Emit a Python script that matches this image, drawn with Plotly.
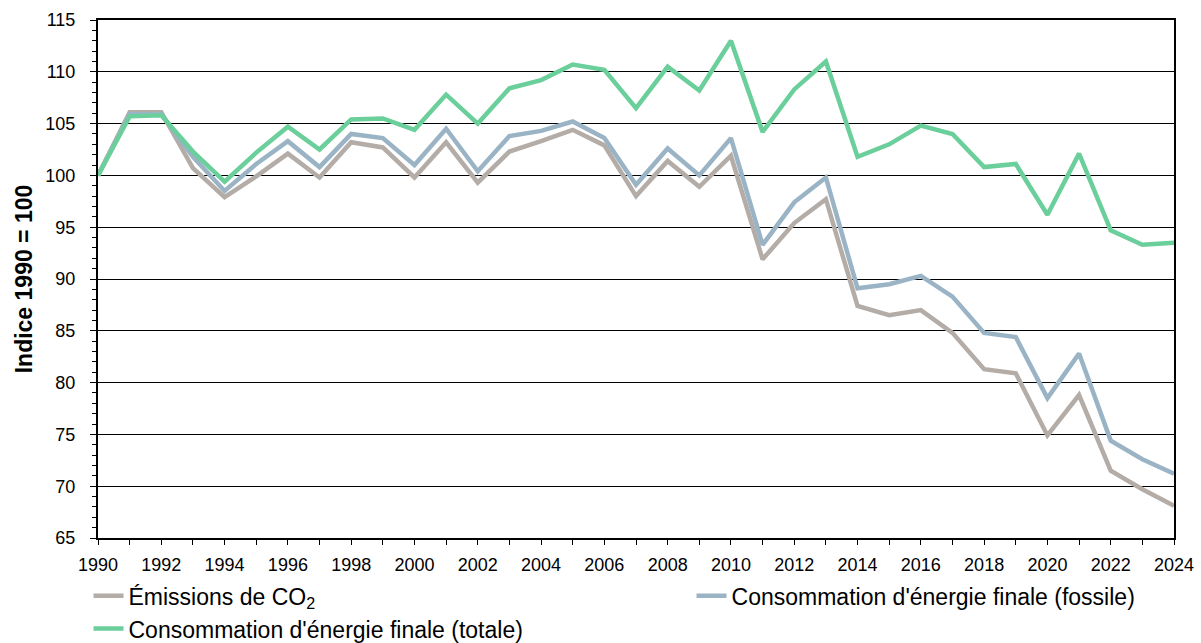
import plotly.graph_objects as go

years = list(range(1990, 2025))

co2 = [100, 106.1, 106.1, 100.7, 97.9, 99.9, 102.1, 99.8, 103.2, 102.7,
       99.8, 103.2, 99.3, 102.3, 103.3, 104.4, 102.9, 98.0, 101.4, 98.9,
       101.9, 91.9, 95.4, 97.7, 87.4, 86.5, 87.0, 84.8, 81.3, 80.9,
       74.9, 78.8, 71.5, 69.7, 68.1]

fossile = [100, 105.9, 105.9, 101.8, 98.5, 101.1, 103.3, 100.8, 104.0, 103.6,
           101.0, 104.5, 100.4, 103.8, 104.3, 105.2, 103.6, 99.1, 102.6, 100.0,
           103.6, 93.3, 97.4, 99.8, 89.1, 89.5, 90.3, 88.3, 84.8, 84.4,
           78.5, 82.8, 74.4, 72.6, 71.2]

totale = [100, 105.7, 105.8, 102.3, 99.4, 102.2, 104.7, 102.5, 105.4, 105.5,
          104.4, 107.8, 105.0, 108.4, 109.2, 110.7, 110.2, 106.5, 110.5, 108.2,
          113.0, 104.2, 108.3, 111.0, 101.8, 103.0, 104.8, 104.0, 100.8, 101.1,
          96.2, 102.1, 94.7, 93.3, 93.5]

# (name, values, colour, legend slot)
series = [
    ("Émissions de CO<sub>2</sub>", co2, "#B4ACA7", "legend"),
    ("Consommation d'énergie finale (fossile)", fossile, "#9AB4C6", "legend2"),
    ("Consommation d'énergie finale (totale)", totale, "#6BCF9B", "legend"),
]

fig = go.Figure()
for name, vals, color, leg in series:
    fig.add_trace(go.Scatter(
        x=years, y=vals, name=name, mode="lines",
        line=dict(color=color, width=4.5),
        legend=leg,
    ))

font = "Liberation Sans, Arial, sans-serif"
legend_style = dict(
    orientation="h",
    xanchor="left", xref="container",
    yref="container", y=0.107, yanchor="top",
    font=dict(size=23, family=font),
    entrywidth=700, entrywidthmode="pixels",
    tracegroupgap=0, bgcolor="rgba(0,0,0,0)",
)

fig.update_layout(
    width=1201, height=643,
    margin=dict(l=98, r=27, t=20, b=105, autoexpand=False),
    paper_bgcolor="white", plot_bgcolor="white",
    font=dict(family=font, size=18, color="black"),
    showlegend=True,
    legend=dict(x=0.0737, **legend_style),
    legend2=dict(x=0.5758, **legend_style),
    xaxis=dict(
        range=[1990, 2024], dtick=1, tick0=1990, ticklabelstep=2,
        showgrid=False, zeroline=False, automargin=False,
        showline=True, linecolor="black", linewidth=2, mirror=True,
        ticks="outside", ticklen=5, tickcolor="black", tickwidth=1,
        ticklabelstandoff=4,
        tickfont=dict(size=18),
    ),
    yaxis=dict(
        range=[65, 115], dtick=5, tick0=65,
        showgrid=True, gridcolor="black", gridwidth=1,
        zeroline=False, automargin=False,
        showline=True, linecolor="black", linewidth=2, mirror=True,
        ticks="outside", ticklen=6, tickcolor="black", tickwidth=1,
        ticklabelstandoff=11,
        minor=dict(dtick=1, ticks="outside", ticklen=4, tickcolor="black", showgrid=False),
        tickfont=dict(size=18),
        title=dict(text="<b>Indice 1990 = 100</b>", font=dict(size=23), standoff=6),
    ),
)

fig.write_html("out.html")
